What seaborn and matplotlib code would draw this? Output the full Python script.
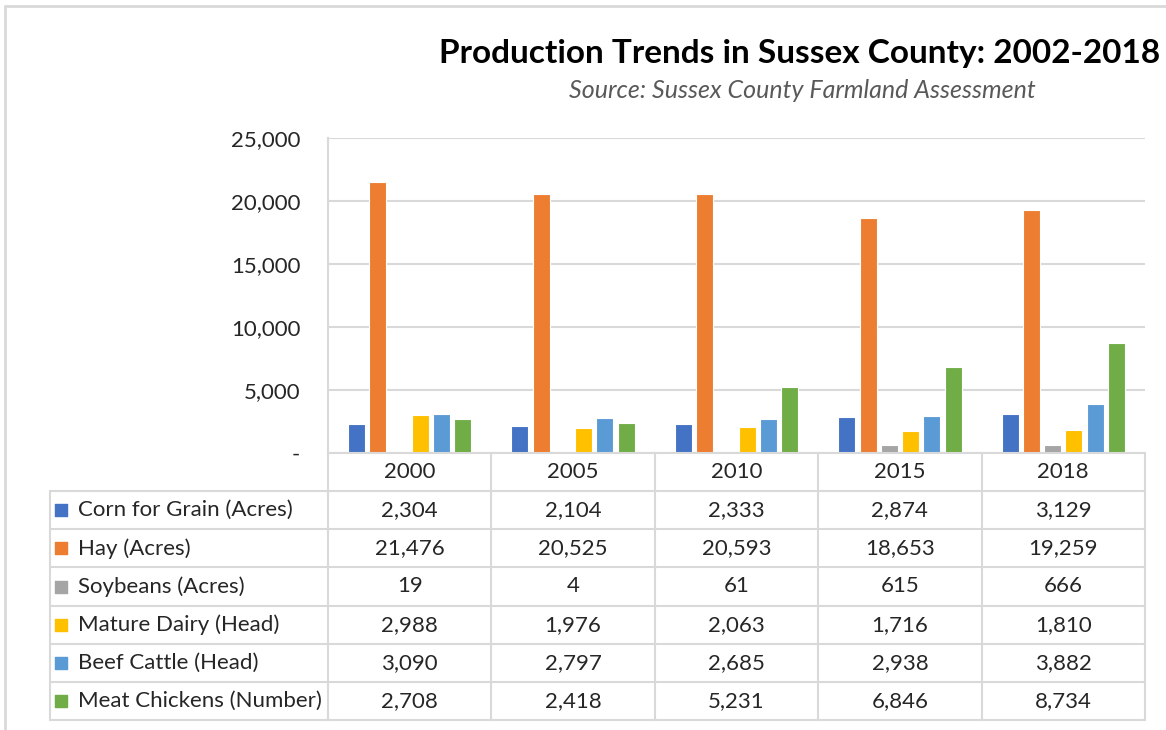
import numpy as np
import matplotlib.pyplot as plt
import pandas as pd
import seaborn as sns
from matplotlib.lines import Line2D

years = ['2000', '2005', '2010', '2015', '2018']
series = ['Corn for Grain (Acres)', 'Hay (Acres)', 'Soybeans (Acres)',
          'Mature Dairy (Head)', 'Beef Cattle (Head)', 'Meat Chickens (Number)']
corn = [2304, 2104, 2333, 2874, 3129]
hay = [21476, 20525, 20593, 18653, 19259]
soy = [19, 4, 61, 615, 666]
dairy = [2988, 1976, 2063, 1716, 1810]
beef = [3090, 2797, 2685, 2938, 3882]
chickens = [2708, 2418, 5231, 6846, 8734]
colors = ['#4472C4', '#ED7D31', '#A5A5A5', '#FFC000', '#5B9BD5', '#70AD47']

values = [corn, hay, soy, dairy, beef, chickens]
df = pd.DataFrame([(y, s, v) for s, vals in zip(series, values)
                   for y, v in zip(years, vals)],
                  columns=['year', 'series', 'value'])

sns.set_style('white')
plt.rcParams['font.family'] = ['Lato', 'DejaVu Sans']

W, H = 1166, 730
GRID = '#D9D9D9'
TXT = '#262626'
FS = 16


def box(l, t, r, b):
    return [l / W, 1 - b / H, (r - l) / W, (b - t) / H]


fig = plt.figure(figsize=(W / 100, H / 100), dpi=100)

# bar chart
ax = fig.add_axes(box(328, 138, 1145, 453))
sns.barplot(data=df, x='year', y='value', hue='series', palette=colors,
            saturation=1, width=0.78, gap=0.2, legend=False, ax=ax,
            edgecolor='white', linewidth=0.8)
ax.set_xlim(-0.5, 4.5)
ax.set_ylim(0, 25000)
ax.set_yticks(range(0, 25001, 5000))
ax.set_yticklabels(['-' if v == 0 else f'{v:,}' for v in range(0, 25001, 5000)],
                   fontsize=FS, color=TXT)
ax.tick_params(axis='y', length=0, pad=20)
ax.set_xticks([])
ax.set_xlabel('')
ax.set_ylabel('')
ax.yaxis.grid(True, color=GRID, lw=1.5)
ax.set_axisbelow(True)
for s in ['top', 'right']:
    ax.spines[s].set_visible(False)
for s in ['left', 'bottom']:
    ax.spines[s].set_color(GRID)
    ax.spines[s].set_linewidth(1.5)

# data table below the chart
tab = fig.add_axes(box(328, 453, 1145, 720))
tab.set_xlim(-0.5, 4.5)
tab.set_ylim(7, 0)
tab.axis('off')
xl = -0.5 - (328 - 50) / 817 * 5
lk = dict(color=GRID, lw=1.5, clip_on=False)
for i in range(6):
    tab.plot([i - 0.5, i - 0.5], [0, 7], **lk)
for r in range(1, 8):
    tab.plot([xl, 4.5], [r, r], **lk)
tab.plot([xl, xl], [1, 7], **lk)

for j, y in enumerate(years):
    tab.text(j, 0.5, y, ha='center', va='center', fontsize=FS, color=TXT)
for i, (name, vals, c) in enumerate(zip(series, values, colors)):
    r = i + 1.5
    tab.scatter([xl + 0.07], [r], marker='s', s=75, color=c, clip_on=False)
    tab.text(xl + 0.17, r, name, ha='left', va='center', fontsize=FS, color=TXT)
    for j, v in enumerate(vals):
        tab.text(j, r, f'{v:,}', ha='center', va='center', fontsize=FS, color=TXT)

fig.text(800 / W, 1 - 53 / H, 'Production Trends in Sussex County: 2002-2018',
         ha='center', va='center', fontsize=24, fontweight='bold', color='black')
fig.text(802 / W, 1 - 91 / H, 'Source: Sussex County Farmland Assessment',
         ha='center', va='center', fontsize=18, style='italic', color='#595959')

# outer frame of the chart area (cropped)
fig.add_artist(Line2D([5 / W, 5 / W], [0, 1 - 6 / H], color=GRID, lw=2))
fig.add_artist(Line2D([5 / W, 1], [1 - 6 / H, 1 - 6 / H], color=GRID, lw=2))

fig.savefig('out.png', dpi=100)
